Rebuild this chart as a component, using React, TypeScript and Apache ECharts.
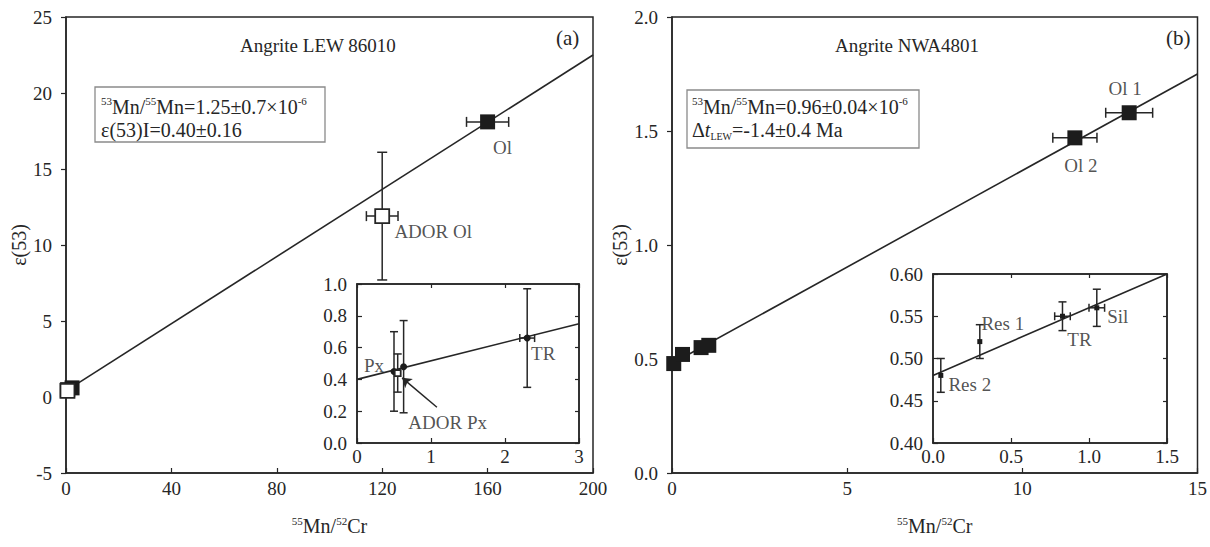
import React, { useEffect, useRef } from "react";
import * as echarts from "echarts";

const FONT = "Liberation Serif";
const INK = "#262626";

// ---------- Panel (a): Angrite LEW 86010 ----------
const aXTicks = { min: 0, max: 200, interval: 40 };
const aYTicks = { min: -5, max: 25, interval: 5 };
const aFilled = [[2.3, 0.6], [0.5, 0.45], [0.63, 0.48], [160, 18.1]];
const aOpen = [[0.55, 0.4], [120, 11.9]];
const aErr = [[160, 18.1, 8, 0], [120, 11.9, 6, 4.2]];
const aLine = [[0, 0.4], [200, 22.5]];
const aNames = ["Ol", "ADOR Ol"];
const aNamePts = [[160, 18.1], [120, 11.9]];

// inset of (a)
const aiFilled = [[0.5, 0.45], [0.63, 0.48], [2.3, 0.66]];
const aiOpen = [[0.55, 0.44]];
const aiErr = [[0.5, 0.45, 0, 0.25], [0.63, 0.48, 0, 0.29], [2.3, 0.66, 0.1, 0.31], [0.55, 0.44, 0.03, 0.12]];
const aiLine = [[0, 0.4], [3, 0.75]];
const aiNames = ["Px", "TR", "ADOR Px"];
const aiNamePts = [[0.5, 0.45], [2.3, 0.66], [0.55, 0.44]];
const aiArrow = [[1.08, 0.225], [0.61, 0.41]];

// ---------- Panel (b): Angrite NWA4801 ----------
const bFilled = [[0.05, 0.48], [0.3, 0.52], [0.83, 0.55], [1.05, 0.56], [11.5, 1.47], [13.05, 1.58]];
const bErr = [[11.5, 1.47, 0.63, 0], [13.05, 1.58, 0.67, 0]];
const bLine = [[0, 0.48], [15, 1.75]];
const bNames = ["Ol 1", "Ol 2"];
const bNamePts = [[13.05, 1.58], [11.5, 1.47]];

// inset of (b)
const biPts = [[0.05, 0.48], [0.3, 0.52], [0.83, 0.55], [1.05, 0.56]];
const biErr = [[0.05, 0.48, 0, 0.02], [0.3, 0.52, 0, 0.02], [0.83, 0.55, 0.05, 0.017], [1.05, 0.56, 0.05, 0.022]];
const biLine = [[0, 0.48], [1.5, 0.6]];
const biNames = ["Res 2", "Res 1", "TR", "Sil"];

const SUP = { fontSize: 11, verticalAlign: "top", lineHeight: 12, fontFamily: FONT, color: INK };
const SUB = { fontSize: 10, verticalAlign: "bottom", lineHeight: 12, fontFamily: FONT, color: INK };

function errSeries(xi: number, yi: number, data: number[][], cap: number) {
  return {
    type: "custom",
    xAxisIndex: xi,
    yAxisIndex: yi,
    data,
    z: 3,
    silent: true,
    renderItem: (_p: any, api: any) => {
      const x = api.value(0), y = api.value(1), xe = api.value(2), ye = api.value(3);
      const st = { stroke: INK, lineWidth: 1.5 };
      const ch: any[] = [];
      const L = (x1: number, y1: number, x2: number, y2: number) =>
        ch.push({ type: "line", shape: { x1, y1, x2, y2 }, style: st });
      if (ye > 0) {
        const t = api.coord([x, y + ye]);
        const b = api.coord([x, y - ye]);
        L(t[0], t[1], b[0], b[1]);
        L(t[0] - cap, t[1], t[0] + cap, t[1]);
        L(b[0] - cap, b[1], b[0] + cap, b[1]);
      }
      if (xe > 0) {
        const l = api.coord([x - xe, y]);
        const r = api.coord([x + xe, y]);
        L(l[0], l[1], r[0], r[1]);
        L(l[0], l[1] - cap, l[0], l[1] + cap);
        L(r[0], r[1] - cap, r[0], r[1] + cap);
      }
      return { type: "group", children: ch };
    },
  };
}

function lineSeries(xi: number, yi: number, data: number[][]) {
  return {
    type: "line", xAxisIndex: xi, yAxisIndex: yi, data, showSymbol: false, symbol: "none",
    lineStyle: { color: INK, width: 1.6 }, z: 2, silent: true,
  };
}

function pointSeries(xi: number, yi: number, data: number[][], symbol: string, size: number, open: boolean) {
  return {
    type: "scatter", xAxisIndex: xi, yAxisIndex: yi, data, symbol, symbolSize: size, z: open ? 5 : 4,
    itemStyle: open
      ? { color: "#fff", borderColor: INK, borderWidth: 1.8, opacity: 1 }
      : { color: "#1c1c1c", opacity: 1 },
    silent: true,
  };
}

function labelSeries(xi: number, yi: number, names: string[], pts: number[][], offsets: number[][]) {
  return {
    type: "scatter", xAxisIndex: xi, yAxisIndex: yi, symbolSize: 1, z: 6, silent: true,
    itemStyle: { color: "rgba(0,0,0,0)" },
    data: names.map((n, i) => ({
      value: pts[i],
      label: {
        show: true, formatter: n, position: "inside", offset: offsets[i],
        fontFamily: FONT, fontSize: 19, color: INK,
      },
    })),
  };
}

function xAx(grid: number, t: any, fmt: (v: number) => string, margin: number, name?: string) {
  return {
    type: "value", gridIndex: grid, min: t.min, max: t.max, interval: t.interval,
    axisLine: { show: true, onZero: false, lineStyle: { color: INK, width: 1.5 } },
    axisTick: { show: true, inside: true, length: 5, lineStyle: { color: INK, width: 1.2 } },
    splitLine: { show: false },
    axisLabel: { formatter: fmt, fontFamily: FONT, fontSize: 19, color: INK, margin },
    name: name || "",
    nameLocation: "middle",
    nameGap: 42,
    nameTextStyle: { fontFamily: FONT, fontSize: 20, color: INK, lineHeight: 22, rich: { sup: SUP } },
  };
}

function yAx(grid: number, t: any, fmt: (v: number) => string, margin: number, inside: boolean, name?: string) {
  return {
    type: "value", gridIndex: grid, min: t.min, max: t.max, interval: t.interval,
    axisLine: { show: true, onZero: false, lineStyle: { color: INK, width: 1.5 } },
    axisTick: { show: true, inside, length: 5, lineStyle: { color: INK, width: 1.2 } },
    splitLine: { show: false },
    axisLabel: { formatter: fmt, fontFamily: FONT, fontSize: 19, color: INK, margin },
    name: name || "",
    nameLocation: "middle",
    nameRotate: 90,
    nameGap: 36,
    nameTextStyle: { fontFamily: FONT, fontSize: 20, color: INK },
  };
}

function mirror(kind: "x" | "y", grid: number, t: any) {
  return {
    type: "value", gridIndex: grid, min: t.min, max: t.max, interval: t.interval,
    position: kind === "x" ? "top" : "right",
    axisLine: { show: true, onZero: false, lineStyle: { color: INK, width: 1.5 } },
    axisTick: { show: true, inside: true, length: 4, lineStyle: { color: INK, width: 1.2 } },
    axisLabel: { show: false },
    splitLine: { show: false },
  };
}

const aiX = { min: 0, max: 3, interval: 1 };
const aiY = { min: 0, max: 1, interval: 0.2 };
const bX = { min: 0, max: 15, interval: 5 };
const bY = { min: 0, max: 2, interval: 0.5 };
const biX = { min: 0, max: 1.5, interval: 0.5 };
const biY = { min: 0.4, max: 0.6, interval: 0.05 };

export default function App() {
  const ref = useRef<HTMLDivElement>(null);
  useEffect(() => {
    if (!ref.current) return;
    const chart = echarts.init(ref.current, undefined, { renderer: "svg" });
    const xName = "{sup|55}Mn/{sup|52}Cr";
    const option: any = {
      animation: false,
      backgroundColor: "#fff",
      textStyle: { fontFamily: FONT },
      grid: [
        { left: 66, top: 17, width: 527, height: 456, show: true, borderColor: INK, borderWidth: 1.5 },
        { left: 357, top: 284, width: 222, height: 159, show: true, borderColor: INK, borderWidth: 1.5, backgroundColor: "#fff" },
        { left: 672, top: 17, width: 528, height: 456, show: true, borderColor: INK, borderWidth: 1.5 },
        { left: 933, top: 274, width: 234, height: 169, show: true, borderColor: INK, borderWidth: 1.5, backgroundColor: "#fff" },
      ],
      xAxis: [
        xAx(0, aXTicks, (v) => String(v), 6, xName),
        xAx(1, aiX, (v) => String(v), 4),
        xAx(2, bX, (v) => String(v), 6, xName),
        xAx(3, biX, (v) => v.toFixed(1), 4),
        mirror("x", 1, aiX),
        mirror("x", 3, biX),
      ],
      yAxis: [
        yAx(0, aYTicks, (v) => String(Math.round(v)), 14, false, "ε(53)"),
        yAx(1, aiY, (v) => v.toFixed(1), 10, true),
        yAx(2, bY, (v) => v.toFixed(1), 14, false, "ε(53)"),
        yAx(3, biY, (v) => v.toFixed(2), 10, true),
        mirror("y", 1, aiY),
        mirror("y", 3, biY),
      ],
      series: [
        // panel a
        lineSeries(0, 0, aLine),
        errSeries(0, 0, aErr, 5),
        pointSeries(0, 0, aFilled, "rect", 15, false),
        pointSeries(0, 0, aOpen, "rect", 14, true),
        labelSeries(0, 0, aNames, aNamePts, [[15, 26], [51, 15]]),
        // inset a
        lineSeries(1, 1, aiLine),
        errSeries(1, 1, aiErr, 4),
        pointSeries(1, 1, aiFilled, "circle", 7, false),
        pointSeries(1, 1, aiOpen, "rect", 6, true),
        labelSeries(1, 1, aiNames, aiNamePts, [[-20, -6], [16, 15], [50, 49]]),
        {
          type: "lines", coordinateSystem: "cartesian2d", xAxisIndex: 1, yAxisIndex: 1, z: 6, silent: true,
          symbol: ["none", "arrow"], symbolSize: 9,
          lineStyle: { color: INK, width: 1.5, opacity: 1 },
          data: [{ coords: aiArrow }],
        },
        // panel b
        lineSeries(2, 2, bLine),
        errSeries(2, 2, bErr, 5),
        pointSeries(2, 2, bFilled, "rect", 15, false),
        labelSeries(2, 2, bNames, bNamePts, [[-4, -24], [6, 28]]),
        // inset b
        lineSeries(3, 3, biLine),
        errSeries(3, 3, biErr, 4),
        pointSeries(3, 3, biPts, "rect", 5, false),
        labelSeries(3, 3, biNames, biPts, [[29, 9], [23, -18], [17, 23], [21, 9]]),
      ],
      graphic: [
        { type: "text", left: 240, top: 36, style: { text: "Angrite LEW 86010", fontFamily: FONT, fontSize: 19, fill: INK } },
        { type: "text", left: 556, top: 27, style: { text: "(a)", fontFamily: FONT, fontSize: 21, fill: INK } },
        { type: "text", left: 835, top: 36, style: { text: "Angrite NWA4801", fontFamily: FONT, fontSize: 19, fill: INK } },
        { type: "text", left: 1166, top: 27, style: { text: "(b)", fontFamily: FONT, fontSize: 21, fill: INK } },
        {
          type: "rect", shape: { x: 95, y: 87, width: 230, height: 55 },
          style: { fill: "#fff", stroke: "#8a8a8a", lineWidth: 1.3 }, z: 10,
        },
        {
          type: "text", x: 101, y: 95, z: 11,
          style: {
            text: "{sup|53}Mn/{sup|55}Mn=1.25±0.7×10{sup|-6}\nε(53)I=0.40±0.16",
            fontFamily: FONT, fontSize: 20, fill: INK, lineHeight: 23,
            rich: { sup: SUP },
          },
        },
        {
          type: "rect", shape: { x: 687, y: 90, width: 232, height: 58 },
          style: { fill: "#fff", stroke: "#8a8a8a", lineWidth: 1.3 }, z: 10,
        },
        {
          type: "text", x: 692, y: 95, z: 11,
          style: {
            text: "{sup|53}Mn/{sup|55}Mn=0.96±0.04×10{sup|-6}\nΔ{it|t}{sub|LEW}=-1.4±0.4 Ma",
            fontFamily: FONT, fontSize: 20, fill: INK, lineHeight: 23,
            rich: { sup: SUP, sub: SUB, it: { fontStyle: "italic", fontSize: 20, fontFamily: FONT, color: INK } },
          },
        },
      ],
    };
    chart.setOption(option);
    return () => chart.dispose();
  }, []);
  return <div ref={ref} style={{ position: "absolute", left: 0, top: 0, width: 1210, height: 547 }} />;
}
